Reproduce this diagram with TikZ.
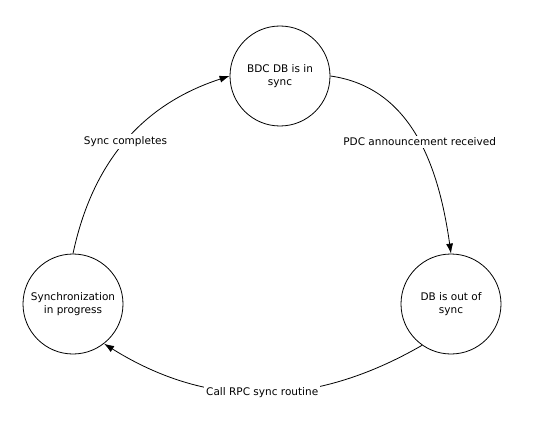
\documentclass[tikz,border=0pt]{standalone}
\usepackage{fontspec}
\setmainfont{DejaVu Sans}
\usetikzlibrary{arrows.meta}
\begin{document}
\begin{tikzpicture}[x=1pt, y=1pt,
    state/.style={draw, thick, circle, minimum size=100pt, align=center, inner sep=0pt,
      font=\fontsize{10.5}{12.5}\selectfont},
    trans/.style={-{Latex[length=10pt, width=7pt]}, thick},
    lbl/.style={fill=white, inner sep=2pt, font=\fontsize{10.5}{12.5}\selectfont}]
  \useasboundingbox (0,0) rectangle (557,432);
  % the three states
  \node[state] (insync) at (280, 356) {BDC DB is in\\sync};
  \node[state] (outsync) at (451, 128) {DB is out of\\sync};
  \node[state] (progress) at (73, 128) {Synchronization\\in progress};

  % transitions
  \draw[trans] (insync.east) to[out=-8, in=98]
    node[lbl, pos=0.52] {PDC announcement received} (outsync.north);
  \draw[trans] (outsync.-125) to[out=210, in=-32]
    node[lbl, pos=0.5] {Call RPC sync routine} (progress.-52);
  \draw[trans] (progress.north) to[out=78, in=198]
    node[lbl, pos=0.5] {Sync completes} (insync.west);
\end{tikzpicture}
\end{document}
